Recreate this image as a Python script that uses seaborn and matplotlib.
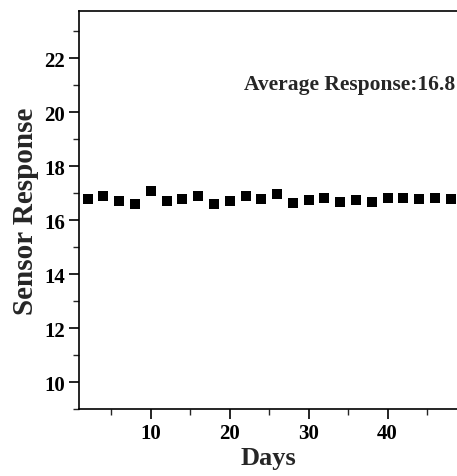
import pandas as pd
import matplotlib.pyplot as plt
from matplotlib.ticker import MultipleLocator
import seaborn as sns

# data
days = [2, 4, 6, 8, 10, 12, 14, 16, 18, 20, 22, 24,
        26, 28, 30, 32, 34, 36, 38, 40, 42, 44, 46, 48]
response = [16.79, 16.91, 16.70, 16.62, 17.10, 16.70, 16.79, 16.91, 16.62, 16.70, 16.91, 16.79,
            16.96, 16.65, 16.75, 16.84, 16.69, 16.75, 16.67, 16.81, 16.83, 16.79, 16.83, 16.78]
note = 'Average Response:16.8'

df = pd.DataFrame({'Days': days, 'Sensor Response': response})

sns.set_style('ticks')
plt.rcParams['font.family'] = ['Liberation Serif', 'DejaVu Serif']
plt.rcParams['font.weight'] = 'bold'

fig = plt.figure(figsize=(4.57, 4.77), dpi=100)
ax = fig.add_axes([79/457, 67/477, 378/457, 398/477])

sns.scatterplot(data=df, x='Days', y='Sensor Response', marker='s', color='black',
                s=44, edgecolor='black', linewidth=0, ax=ax)

ax.set_xlim(0.9, 48.8)
ax.set_ylim(9, 23.76)
ax.xaxis.set_major_locator(MultipleLocator(10))
ax.xaxis.set_minor_locator(MultipleLocator(5))
ax.yaxis.set_major_locator(MultipleLocator(2))
ax.yaxis.set_minor_locator(MultipleLocator(1))
ax.tick_params(which='major', direction='out', length=7, width=1.2, labelsize=15,
               colors='black', pad=3)
ax.tick_params(which='minor', direction='out', length=4, width=1.0)
for lab in ax.get_xticklabels() + ax.get_yticklabels():
    lab.set_fontweight('bold')

for side in ['left', 'bottom', 'top']:
    ax.spines[side].set_linewidth(1.2)
    ax.spines[side].set_color('black')
ax.spines['right'].set_visible(False)

ax.set_xlabel('Days', fontsize=19, fontweight='bold', labelpad=2)
ax.set_ylabel('Sensor Response', fontsize=21, fontweight='bold', labelpad=4)

ax.text(48.6, 21.05, note, ha='right', va='center', fontsize=15.5, fontweight='bold')

fig.savefig('out.png', dpi=100)
